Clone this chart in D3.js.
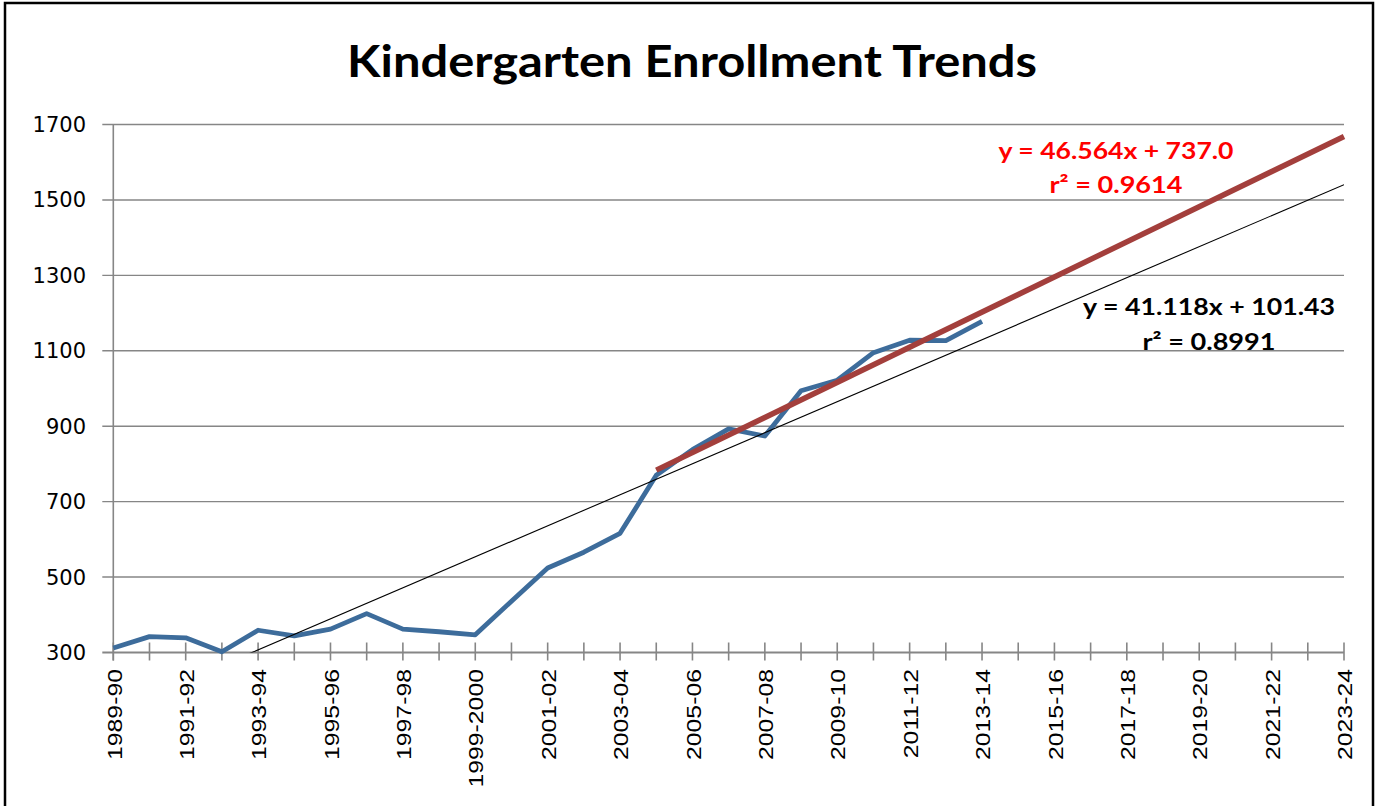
<!DOCTYPE html>
<html>
<head>
<meta charset="utf-8">
<script src="https://cdn.jsdelivr.net/npm/d3@7"></script>
<style>
  body { margin: 0; background: #fff; }
  svg { display: block; }
</style>
</head>
<body>
<div class="chart"></div>
<script>

var categories = ["1989-90","1990-91","1991-92","1992-93","1993-94","1994-95","1995-96","1996-97",
    "1997-98","1998-99","1999-2000","2000-01","2001-02","2002-03","2003-04","2004-05","2005-06",
    "2006-07","2007-08","2008-09","2009-10","2010-11","2011-12","2012-13","2013-14","2014-15",
    "2015-16","2016-17","2017-18","2018-19","2019-20","2020-21","2021-22","2022-23","2023-24"];

// enrollment, 1989-90 .. 2013-14
var enrollment = [312, 342, 339, 302, 359, 344, 362, 403, 362, 355, 347, 436, 524, 566, 616,
    770, 838, 893, 874, 994, 1022, 1095, 1128, 1127, 1178];

var yTicks = [300, 500, 700, 900, 1100, 1300, 1500, 1700];

// trend lines as printed on the chart: [slope, intercept, first category]
var trendAll = [41.118, 101.43, 0];
var trendRecent = [46.564, 737.0, 15];
var trendAllText = ["y = 41.118x + 101.43", "r\u00b2 = 0.8991"];
var trendRecentText = ["y = 46.564x + 737.0", "r\u00b2 = 0.9614"];

var width = 1376, height = 806;
var plotLeft = 113.3, plotRight = 1344, plotTop = 124.5, plotBottom = 652.5;

var svg = d3.select(".chart")
    .append("svg")
    .attr("width", width)
    .attr("height", height);

svg.append("rect")
    .attr("x", 5).attr("y", 3)
    .attr("width", 1368).attr("height", 820)
    .attr("fill", "none")
    .attr("stroke", "#000")
    .attr("stroke-width", 2.5);

svg.append("text")
    .attr("x", 692).attr("y", 77)
    .attr("text-anchor", "middle")
    .attr("font-family", "Lato, 'Open Sans', sans-serif")
    .attr("font-weight", "bold")
    .attr("font-size", 44)
    .attr("textLength", 690)
    .attr("lengthAdjust", "spacingAndGlyphs")
    .attr("fill", "#000")
    .text("Kindergarten Enrollment Trends");

var x = d3.scaleLinear().domain([0, categories.length - 1]).range([plotLeft, plotRight]);
var y = d3.scaleLinear().domain([300, 1700]).range([plotBottom, plotTop]);

var grey = "#868686";

// horizontal grid + y labels
svg.append("g")
    .selectAll("line")
    .data(yTicks).enter()
    .append("line")
    .attr("x1", plotLeft - 11).attr("x2", plotRight)
    .attr("y1", d => y(d)).attr("y2", d => y(d))
    .attr("stroke", grey)
    .attr("stroke-width", d => d == 300 ? 2 : 1.4);

svg.append("g")
    .selectAll("text")
    .data(yTicks).enter()
    .append("text")
    .attr("x", 86)
    .attr("y", d => y(d))
    .attr("dy", "0.36em")
    .attr("text-anchor", "end")
    .attr("font-family", "'DejaVu Sans', sans-serif")
    .attr("font-size", 21)
    .attr("fill", "#000")
    .text(d => d);

// y axis line
svg.append("line")
    .attr("x1", plotLeft).attr("x2", plotLeft)
    .attr("y1", plotTop).attr("y2", plotBottom + 8)
    .attr("stroke", grey)
    .attr("stroke-width", 1.6);

// x ticks
svg.append("g")
    .selectAll("line")
    .data(categories).enter()
    .append("line")
    .attr("x1", (d, i) => x(i)).attr("x2", (d, i) => x(i))
    .attr("y1", plotBottom - 10).attr("y2", plotBottom + 8)
    .attr("stroke", grey)
    .attr("stroke-width", 1.6);

// x labels, every other category
var xLabels = svg.append("g")
    .selectAll("text")
    .data(categories.filter((d, i) => i % 2 == 0)).enter()
    .append("text")
    .attr("transform", d => "translate(" + (x(categories.indexOf(d)) + 1) + "," + 669 + ") rotate(-90)")
    .attr("dy", "0.36em")
    .attr("text-anchor", "end")
    .attr("font-family", "'Liberation Sans', Arial, sans-serif")
    .attr("font-size", 20)
    .attr("fill", "#000")
    .text(d => d);

xLabels.each(function() {
    var len = this.getComputedTextLength();
    d3.select(this)
        .attr("textLength", len * 1.24)
        .attr("lengthAdjust", "spacingAndGlyphs");
});

svg.append("clipPath")
    .attr("id", "plot")
    .append("rect")
    .attr("x", plotLeft).attr("y", plotTop)
    .attr("width", plotRight - plotLeft).attr("height", plotBottom - plotTop);

var line = d3.line()
    .x(d => x(d[0]))
    .y(d => y(d[1]));

svg.append("path")
    .datum(enrollment.map((v, i) => [i, v]))
    .attr("d", line)
    .attr("fill", "none")
    .attr("stroke", "#3d6c9b")
    .attr("stroke-width", 4.8)
    .attr("stroke-linejoin", "round");

function trendPoints(t) {
    var last = categories.length - 1;
    return [t[2], last].map(i => [i, t[0] * (i - t[2] + 1) + t[1]]);
}

svg.append("path")
    .datum(trendPoints(trendRecent))
    .attr("d", line)
    .attr("fill", "none")
    .attr("stroke", "#a33f3c")
    .attr("stroke-width", 5.5);

svg.append("path")
    .datum(trendPoints(trendAll))
    .attr("d", line)
    .attr("clip-path", "url(#plot)")
    .attr("fill", "none")
    .attr("stroke", "#000")
    .attr("stroke-width", 1.1);

// equation labels
function eqLabel(lines, cx, ys, widths, color) {
    svg.append("g")
        .selectAll("text")
        .data(lines).enter()
        .append("text")
        .attr("x", cx)
        .attr("y", (d, i) => ys[i])
        .attr("text-anchor", "middle")
        .attr("font-family", "Lato, 'Open Sans', sans-serif")
        .attr("font-weight", "bold")
        .attr("font-size", 23)
        .attr("textLength", (d, i) => widths[i])
        .attr("lengthAdjust", "spacingAndGlyphs")
        .attr("fill", color)
        .text(d => d);
}

eqLabel(trendRecentText, 1116, [159, 193], [235, 133], "#ff0000");
eqLabel(trendAllText, 1209, [315, 350], [252, 133], "#000");

</script>
</body>
</html>
